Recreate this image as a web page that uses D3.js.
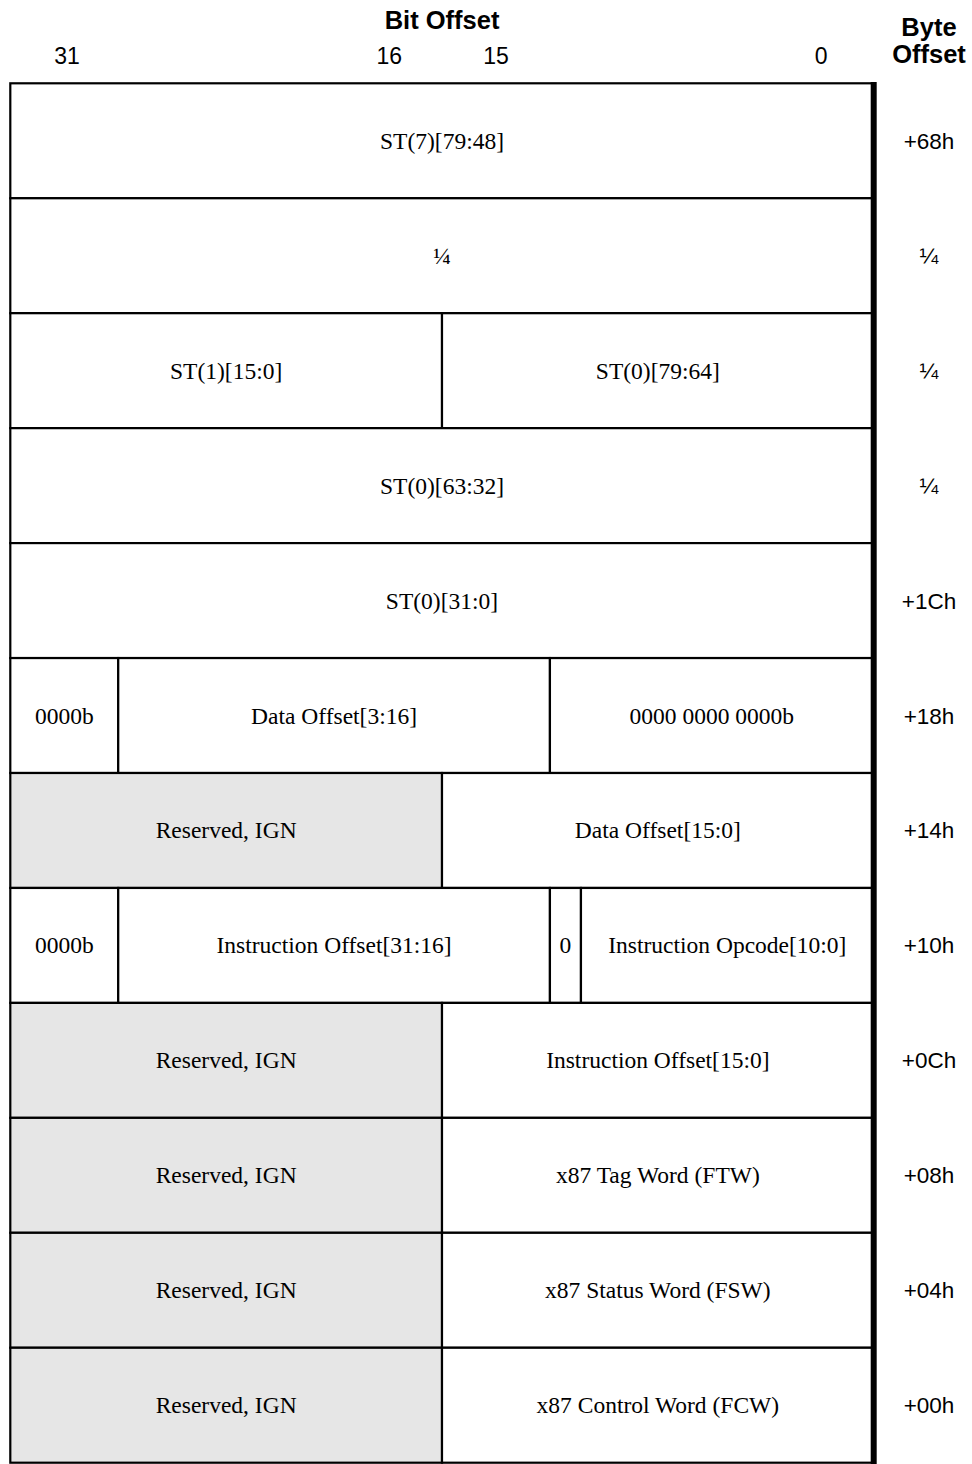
<!DOCTYPE html>
<html>
<head>
<meta charset="utf-8">
<script src="https://cdn.jsdelivr.net/npm/d3@7"></script>
<style>
  html, body { margin: 0; padding: 0; background: #fff; }
  svg { display: block; }
</style>
</head>
<body>
<svg id="chart" width="972" height="1464"></svg>
<script>
// ---- data ----
const title = "Bit Offset";
const byteTitle = ["Byte", "Offset"];
const bitTickLabels = ["31", "16", "15", "0"];
const bitTickAt = [29.9, 17.95, 14.0, 1.95];   // position on the bit axis
const byteOffsets = ["+68h", "\u00BC", "\u00BC", "\u00BC", "+1Ch", "+18h", "+14h", "+10h", "+0Ch", "+08h", "+04h", "+00h"];
// each field: [high edge, low edge, label, reserved]
const rowFields = [
  [[32, 0, "ST(7)[79:48]", false]],
  [[32, 0, "\u00BC", false]],
  [[32, 16, "ST(1)[15:0]", false], [16, 0, "ST(0)[79:64]", false]],
  [[32, 0, "ST(0)[63:32]", false]],
  [[32, 0, "ST(0)[31:0]", false]],
  [[32, 28, "0000b", false], [28, 12, "Data Offset[3:16]", false], [12, 0, "0000 0000 0000b", false]],
  [[32, 16, "Reserved, IGN", true], [16, 0, "Data Offset[15:0]", false]],
  [[32, 28, "0000b", false], [28, 12, "Instruction Offset[31:16]", false], [12, 10.85, "0", false], [10.85, 0, "Instruction Opcode[10:0]", false]],
  [[32, 16, "Reserved, IGN", true], [16, 0, "Instruction Offset[15:0]", false]],
  [[32, 16, "Reserved, IGN", true], [16, 0, "x87 Tag Word (FTW)", false]],
  [[32, 16, "Reserved, IGN", true], [16, 0, "x87 Status Word (FSW)", false]],
  [[32, 16, "Reserved, IGN", true], [16, 0, "x87 Control Word (FCW)", false]]
];

// ---- layout ----
const svg = d3.select("#chart");
const mLeft = 10.3, mRight = 873.7, mTop = 83.3, mBottom = 1462.7;
const x = d3.scaleLinear().domain([32, 0]).range([mLeft, mRight]);
const y = d3.scaleBand().domain(d3.range(rowFields.length)).range([mTop, mBottom]).padding(0);

const serif = "'Liberation Serif', 'Times New Roman', serif";
const sans = "'Liberation Sans', Arial, sans-serif";

// header
svg.append("text").attr("x", 442).attr("y", 28.5)
  .attr("text-anchor", "middle").attr("font-family", sans).attr("font-weight", "bold")
  .attr("font-size", 25.5).text(title);

svg.selectAll("text.tick").data(bitTickLabels).join("text")
  .attr("class", "tick")
  .attr("x", (d, i) => x(bitTickAt[i])).attr("y", 64)
  .attr("text-anchor", "middle").attr("font-family", sans).attr("font-size", 23)
  .text(d => d);

svg.selectAll("text.bt").data(byteTitle).join("text")
  .attr("class", "bt")
  .attr("x", 929).attr("y", (d, i) => 36 + i * 27)
  .attr("text-anchor", "middle").attr("font-family", sans).attr("font-weight", "bold")
  .attr("font-size", 25.5).text(d => d);

// cells
const cells = [];
rowFields.forEach((fields, r) => fields.forEach(f => cells.push({ r, hi: f[0], lo: f[1], label: f[2], reserved: f[3] })));

const g = svg.append("g");
g.selectAll("rect.cell").data(cells).join("rect")
  .attr("class", "cell")
  .attr("x", d => x(d.hi)).attr("y", d => y(d.r))
  .attr("width", d => x(d.lo) - x(d.hi)).attr("height", y.bandwidth())
  .attr("fill", d => d.reserved ? "#e6e6e6" : "#ffffff")
  .attr("stroke", "#000").attr("stroke-width", 2.2);

g.selectAll("text.cell").data(cells).join("text")
  .attr("class", "cell")
  .attr("x", d => (x(d.hi) + x(d.lo)) / 2)
  .attr("y", d => y(d.r) + y.bandwidth() / 2 + 8)
  .attr("text-anchor", "middle").attr("font-family", serif).attr("font-size", 23.5)
  .text(d => d.label);

// thick right border
svg.append("line").attr("x1", mRight).attr("x2", mRight).attr("y1", mTop - 1.2).attr("y2", 1464)
  .attr("stroke", "#000").attr("stroke-width", 6);

// byte offsets
svg.selectAll("text.bo").data(byteOffsets).join("text")
  .attr("class", "bo")
  .attr("x", 929).attr("y", (d, i) => y(i) + y.bandwidth() / 2 + 8)
  .attr("text-anchor", "middle").attr("font-family", sans).attr("font-size", 22.5)
  .text(d => d);
</script>
</body>
</html>
